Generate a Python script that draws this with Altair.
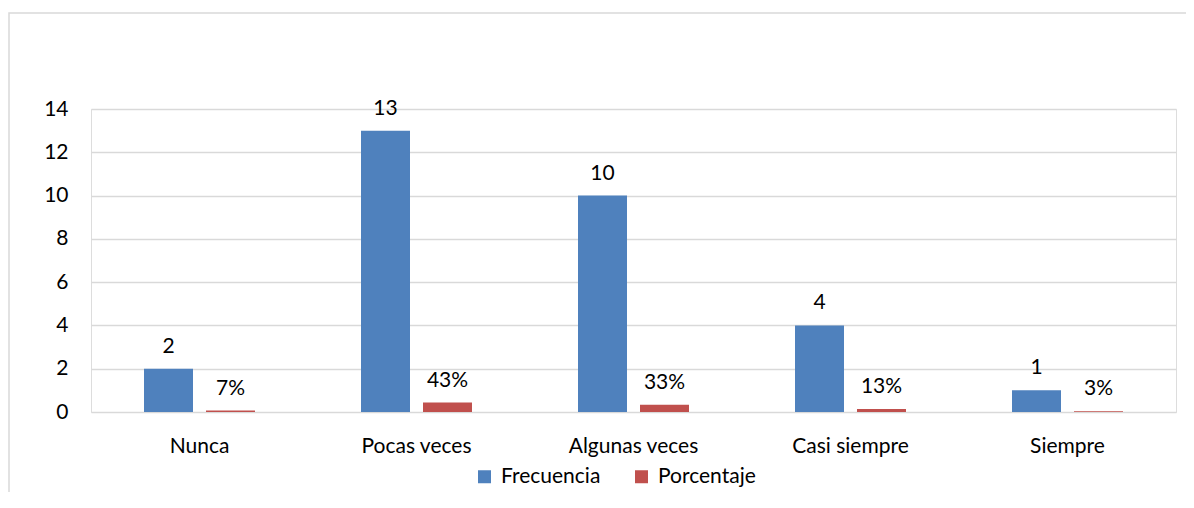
import altair as alt
import pandas as pd

categories = ["Nunca", "Pocas veces", "Algunas veces", "Casi siempre", "Siempre"]
frecuencia = [2, 13, 10, 4, 1]
porcentaje = [0.0667, 0.4333, 0.3333, 0.1333, 0.0333]
series_names = ["Frecuencia", "Porcentaje"]
y_ticks = [0, 2, 4, 6, 8, 10, 12, 14]

rows = []
for c, f, p in zip(categories, frecuencia, porcentaje):
    rows.append({"cat": c, "serie": series_names[0], "valor": f, "label": str(f)})
    rows.append({"cat": c, "serie": series_names[1], "valor": p, "label": f"{round(p * 100)}%"})
df = pd.DataFrame(rows)

FONT = "Lato"
FS = 21
W, H = 1085, 303

x_enc = alt.X("cat:N", sort=categories, title=None,
              scale=alt.Scale(paddingInner=0, paddingOuter=0),
              axis=alt.Axis(labelAngle=0, domain=False, ticks=False, labelPadding=23,
                            labelFontSize=FS, labelFont=FONT, labelColor="#000000"))
xo_enc = alt.XOffset("serie:N", sort=series_names,
                     scale=alt.Scale(paddingInner=0.2097, paddingOuter=0.855))
y_enc = alt.Y("valor:Q", title=None,
              scale=alt.Scale(domain=[0, 14], nice=False),
              axis=alt.Axis(values=y_ticks, domain=False, ticks=False, labelPadding=23,
                            grid=True, gridColor="#D9D9D9", gridWidth=1.5,
                            labelFontSize=FS, labelFont=FONT, labelColor="#000000"))

base = alt.Chart(df)

bars = base.mark_bar().encode(
    x=x_enc, xOffset=xo_enc, y=y_enc,
    color=alt.Color("serie:N", sort=series_names,
                    scale=alt.Scale(domain=series_names, range=["#4F81BD", "#C0504D"]),
                    legend=alt.Legend(title=None, orient="none", legendX=383, legendY=357,
                                      direction="horizontal", symbolType="square",
                                      symbolSize=169, symbolStrokeWidth=0,
                                      labelFontSize=FS, labelFont=FONT, labelColor="#000000",
                                      labelOffset=6, columnPadding=30, padding=0)),
)

labels = base.mark_text(baseline="middle", align="center", dy=-22, fontSize=FS,
                        font=FONT, color="#000000").encode(
    x=x_enc, xOffset=xo_enc, y=y_enc, text="label:N",
)

border = alt.Chart(pd.DataFrame({"k": [0]})).mark_rect(
    fillOpacity=0, stroke="#D9D9D9", strokeWidth=1.5
).encode(
    x=alt.value(-82), x2=alt.value(1200), y=alt.value(-96), y2=alt.value(500)
)

chart = alt.layer(border, bars, labels).properties(
    width=W, height=H,
    autosize=alt.AutoSizeParams(type="none"),
    padding={"left": 83, "top": 101, "right": 10, "bottom": 80},
).configure_view(stroke=None).configure(background="white")

chart.save("out.html", embed_options={"renderer": "svg", "actions": False})
